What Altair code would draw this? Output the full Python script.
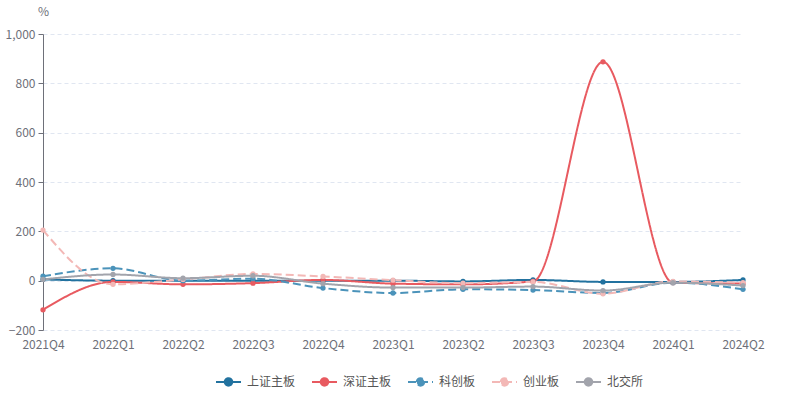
import altair as alt
import pandas as pd

quarters = ["2021Q4", "2022Q1", "2022Q2", "2022Q3", "2022Q4", "2023Q1",
            "2023Q2", "2023Q3", "2023Q4", "2024Q1", "2024Q2"]
series_names = ["上证主板", "深证主板", "科创板", "创业板", "北交所"]
sh_main = [5, 0, 0, 0, 0, 0, -3, 3, -5, -5, 3]
sz_main = [-118, -5, -15, -10, 3, -12, -15, -3, 887, -8, -12]
star = [18, 50, 0, 8, -30, -50, -35, -38, -50, -8, -35]
chinext = [205, -15, 5, 27, 17, 2, -10, -5, -53, -3, -8]
bse = [5, 25, 10, 20, -12, -28, -28, -24, -40, -8, -20]
colors = ["#22729f", "#e85a60", "#4b93ba", "#f3b8b6", "#a2a4ac"]
dashes = [[1, 0], [1, 0], [8, 4], [8, 4], [1, 0]]
y_ticks = [-200, 0, 200, 400, 600, 800, 1000]

rows = []
for name, vals in zip(series_names, [sh_main, sz_main, star, chinext, bse]):
    for q, v in zip(quarters, vals):
        rows.append({"quarter": q, "value": v, "series": name})
df = pd.DataFrame(rows)

FONT = "Microsoft YaHei, Noto Sans CJK SC, sans-serif"

x = alt.X("quarter:N", sort=quarters, title=None,
          scale=alt.Scale(type="point", padding=0),
          axis=alt.Axis(labelAngle=0, domain=False, ticks=False, grid=False,
                        labelPadding=9, labelFontSize=12, labelColor="#6e7079",
                        labelFont=FONT))
y = alt.Y("value:Q", title="%",
          scale=alt.Scale(domain=[-200, 1000], nice=False, zero=False),
          axis=alt.Axis(values=y_ticks, format=",d", domain=True, domainColor="#6e7079",
                        tickColor="#6e7079", tickSize=5, labelPadding=3,
                        labelFontSize=12, labelColor="#6e7079", labelFont=FONT,
                        grid=True, gridColor="#e0e6f1", gridDash=[4, 3],
                        titleAngle=0, titleX=0, titleY=-16, titleAlign="center",
                        titleBaseline="bottom", titleFontWeight="normal",
                        titleFontSize=12, titleColor="#6e7079", titleFont=FONT))

color = alt.Color("series:N", sort=series_names,
                  scale=alt.Scale(domain=series_names, range=colors),
                  legend=alt.Legend(title=None, orient="none", direction="horizontal",
                                    legendX=172, legendY=334,
                                    symbolType="M-1,0L1,0M-0.3,0A0.3,0.3,0,1,1,0.3,0A0.3,0.3,0,1,1,-0.3,0Z",
                                    symbolSize=625, symbolStrokeWidth=2,
                                    labelFontSize=12, labelColor="#555555",
                                    labelFont=FONT,
                                    labelOffset=5, columnPadding=12))
dash = alt.StrokeDash("series:N", sort=series_names,
                      scale=alt.Scale(domain=series_names, range=dashes),
                      legend=None)

base = alt.Chart(df)
lines = base.mark_line(interpolate="monotone", strokeWidth=2).encode(
    x=x, y=y, color=color, strokeDash=dash)
points = base.mark_point(filled=True, size=28, opacity=1).encode(
    x=x, y=y, color=alt.Color("series:N", sort=series_names,
                              scale=alt.Scale(domain=series_names, range=colors),
                              legend=None))

chart = alt.layer(lines, points).properties(
    width=700, height=296,
    autosize=alt.AutoSizeParams(type="none"),
    padding={"left": 43, "top": 34, "right": 43, "bottom": 63},
).configure(font=FONT).configure_view(strokeWidth=0, stroke="transparent")

chart.save("out.html", embed_options={"renderer": "svg", "actions": False})
